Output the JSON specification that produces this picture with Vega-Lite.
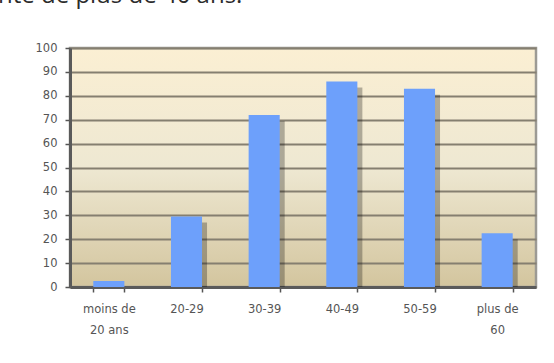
{
  "$schema": "https://vega.github.io/schema/vega-lite/v6.json",
  "width": 466,
  "height": 239,
  "autosize": {"type": "none"},
  "padding": {"left": 70, "top": 48, "right": 18, "bottom": 76},
  "background": "white",
  "title": {
    "text": "nte de plus de 40 ans.",
    "anchor": "start",
    "frame": "group",
    "orient": "top",
    "offset": 0,
    "baseline": "alphabetic",
    "dx": -72,
    "dy": -15,
    "font": "Open Sans",
    "fontSize": 24,
    "fontWeight": "normal",
    "color": "#2b2b2b"
  },
  "view": {
    "fill": {
      "gradient": "linear",
      "x1": 0, "y1": 0, "x2": 0, "y2": 1,
      "stops": [
        {"offset": 0, "color": "#FBEFD3"},
        {"offset": 0.5, "color": "#EEE8D2"},
        {"offset": 1, "color": "#D3C59E"}
      ]
    },
    "stroke": "#9c9a94",
    "strokeWidth": 2.5
  },
  "data": {
    "values": [
      {"age": "moins de 20 ans", "pct": 2.5},
      {"age": "20-29", "pct": 29.5},
      {"age": "30-39", "pct": 72},
      {"age": "40-49", "pct": 86},
      {"age": "50-59", "pct": 83},
      {"age": "plus de 60", "pct": 22.5}
    ]
  },
  "encoding": {
    "x": {
      "field": "age",
      "type": "nominal",
      "sort": null,
      "scale": {"paddingInner": 0.6, "paddingOuter": 0.3},
      "axis": {
        "title": null,
        "labelAngle": 0,
        "tickBand": "extent",
        "ticks": true,
        "tickSize": 5,
        "tickColor": "#555555",
        "tickWidth": 1.5,
        "domainColor": "#5a5a5a",
        "domainWidth": 3,
        "labelPadding": 11,
        "labelBaseline": "top",
        "labelLineHeight": 21,
        "labelFont": "DejaVu Sans",
        "labelFontSize": 11.5,
        "labelColor": "#555555",
        "labelExpr": "datum.value == 'moins de 20 ans' ? ['moins de', '20 ans'] : datum.value == 'plus de 60' ? ['plus de', '60'] : datum.label"
      }
    },
    "y": {
      "field": "pct",
      "type": "quantitative",
      "scale": {"domain": [0, 100], "nice": false},
      "axis": {
        "title": null,
        "values": [0, 10, 20, 30, 40, 50, 60, 70, 80, 90, 100],
        "grid": true,
        "gridColor": "#857f70",
        "gridWidth": 1.8,
        "tickSize": 5,
        "tickColor": "#555555",
        "tickWidth": 1.5,
        "domainColor": "#5a5a5a",
        "domainWidth": 3,
        "labelPadding": 8,
        "labelFont": "DejaVu Sans",
        "labelFontSize": 11.5,
        "labelColor": "#555555"
      }
    }
  },
  "layer": [
    {
      "mark": {"type": "bar", "color": "#000000", "opacity": 0.28, "xOffset": 5, "yOffset": 6, "clip": true},
      "encoding": {}
    },
    {
      "mark": {"type": "bar", "color": "#6DA0FB"},
      "encoding": {}
    }
  ]
}
